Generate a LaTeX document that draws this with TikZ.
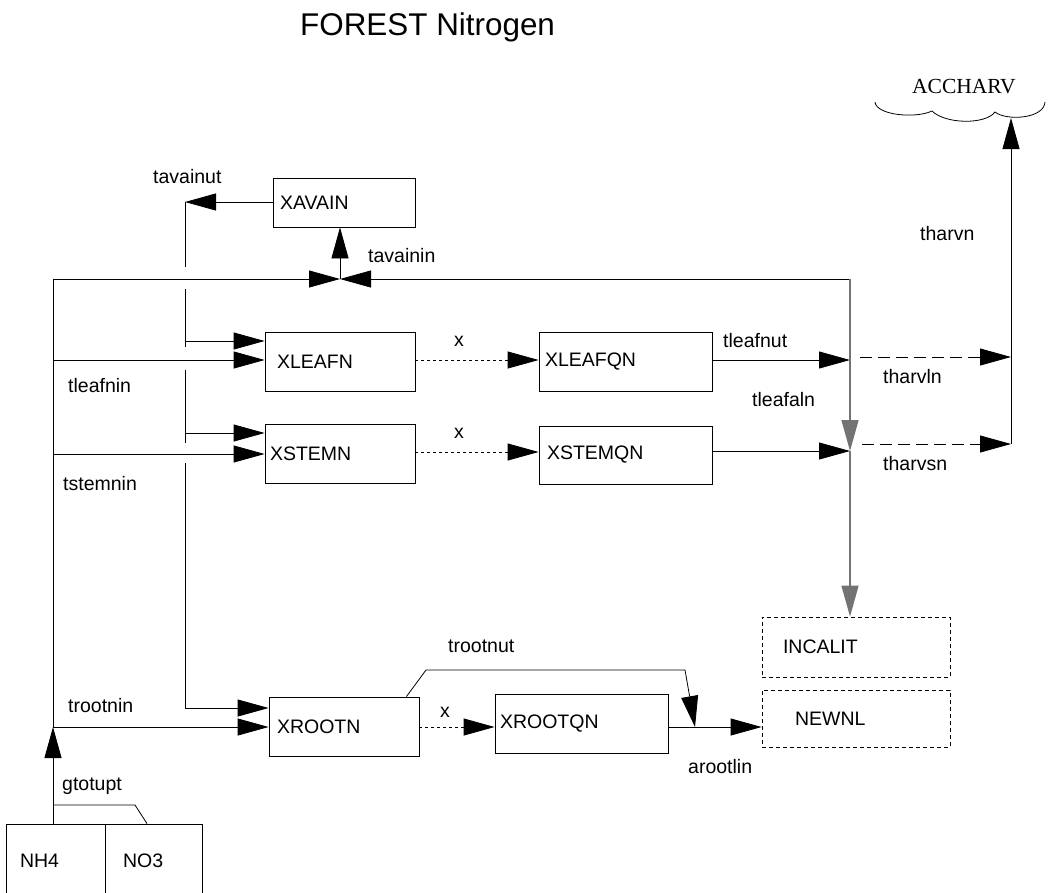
\documentclass[tikz,border=0pt]{standalone}
\usepackage{fontspec}
\setmainfont{Liberation Sans}
\newfontfamily\serifface{Liberation Serif}
\usetikzlibrary{arrows.meta}
\begin{document}
\begin{tikzpicture}[x=1pt,y=-1pt,
  lab/.style={font=\fontsize{19.5}{22}\selectfont, inner sep=0pt, anchor=base west},
  pool/.style={draw, line width=0.8pt, align=left, inner ysep=0pt,
    font=\fontsize{19.5}{22}\selectfont},
  sink/.style={pool, dash pattern=on 4pt off 3pt},
  link/.style={line width=0.8pt},
  tip/.style={-{Triangle[length=31pt,width=17pt]}},
  flow/.style={link, tip},
  fine/.style={dash pattern=on 3pt off 3pt},
  coarse/.style={dash pattern=on 12pt off 6pt},
  trunk/.style={line width=1.3pt, black!55, tip},
]
\useasboundingbox (0,0) rectangle (1051,892);

% title
\node[lab, font=\fontsize{31.4}{34}\selectfont] (title) at (300,35) {FOREST Nitrogen};

% pools
\node[pool, minimum height=49pt, inner xsep=7pt, text width=128pt] (xavain) at (344,202.5) {XAVAIN};
\node[pool, minimum height=59pt, inner xsep=12pt, text width=126pt] (xleafn) at (340,361.5) {XLEAFN};
\node[pool, minimum height=59pt, inner xsep=5pt, text width=140pt] (xstemn) at (340,453.5) {XSTEMN};
\node[pool, minimum height=59pt, inner xsep=6pt, text width=161pt] (xleafqn) at (625.5,361.5) {XLEAFQN};
\node[pool, minimum height=58pt, inner xsep=8pt, text width=157pt] (xstemqn) at (625.5,455) {XSTEMQN};
\node[pool, minimum height=59pt, inner xsep=8pt, text width=134pt] (xrootn) at (344,726.5) {XROOTN};
\node[pool, minimum height=59pt, inner xsep=5pt, text width=163pt] (xrootqn) at (581.5,723.5) {XROOTQN};
\node[sink, minimum height=60pt, inner xsep=21pt, text width=146pt] (incalit) at (856,647) {INCALIT};
\node[sink, minimum height=57pt, inner xsep=33pt, text width=122pt] (newnl) at (856,718.5) {NEWNL};
\node[pool, minimum height=74pt, inner xsep=14pt, text width=71pt] (nh4) at (55.5,861) {NH4};
\node[pool, minimum height=74pt, inner xsep=18pt, text width=61pt] (no3) at (153.5,861) {NO3};

% harvest sink
\node[font=\serifface\fontsize{21.5}{24}\selectfont, inner sep=0pt, anchor=base west] (accharv) at (912,93) {ACCHARV};
\draw[link] (875,102) .. controls (876,115) and (915,119) .. (932,111)
  .. controls (945,124) and (985,125) .. (995,112)
  .. controls (1006,121) and (1044,119) .. (1045,102);

% junction points
\coordinate (top) at (53,279);
\coordinate (mix) at (340,279);
\coordinate (ret) at (850,279);
\coordinate (leafin) at (53,360);
\coordinate (stemin) at (53,454);
\coordinate (rootin) at (53,727);
\coordinate (join) at (53,805);
\coordinate (avtip) at (185,202);
\coordinate (b1) at (185,341);
\coordinate (b2) at (185,433);
\coordinate (b3) at (185,708);
\coordinate (lj) at (850,360);
\coordinate (sj) at (850,451);
\coordinate (hl0) at (860,357);
\coordinate (hl1) at (1011,357);
\coordinate (hs0) at (862,444);
\coordinate (hs1) at (1011,444);
\coordinate (accin) at (1011,118);
\coordinate (rk1) at (426,670);
\coordinate (rk2) at (685,670);
\coordinate (rj) at (695,727);
\coordinate (no3k) at (135,805);

% uptake from the soil
\draw[flow] (nh4.north -| rootin) -- (rootin);
\draw[link] ([xshift=-6.5pt]no3.north) -- (no3k) -- (join);
\draw[link] (rootin) -- (top);
\draw[flow] (top) -- (mix);
\draw[flow] (ret) -- (mix);
\draw[flow] (mix) -- (xavain.south -| mix);

% direct inputs to tissues
\draw[flow] (leafin) -- (xleafn.west |- leafin);
\draw[flow] (stemin) -- (xstemn.west |- stemin);
\draw[flow] (rootin) -- (xrootn.west |- rootin);

% release from the available pool
\draw[flow] (xavain.west |- avtip) -- (avtip);
\draw[link] (avtip) -- (185,267);
\draw[link] (185,289) -- (185,347);
\draw[link] (185,370) -- (185,443);
\draw[link] (185,463) -- (b3);
\draw[flow] (b1) -- (xleafn.west |- b1);
\draw[flow] (b2) -- (xstemn.west |- b2);
\draw[flow] (b3) -- (xrootn.west |- b3);

% transfers between active and inactive pools
\draw[flow, fine] (xleafn.east |- lj) -- (xleafqn.west |- lj);
\draw[flow, fine] (xstemn.east |- 0,452) -- (xstemqn.west |- 0,452);
\draw[flow, fine] (xrootn.east |- rj) -- (xrootqn.west |- rj);

% litter and harvest
\draw[flow] (xleafqn.east |- lj) -- (lj);
\draw[flow] (xstemqn.east |- sj) -- (sj);
\draw[trunk] (ret) -- (sj);
\draw[trunk] (sj) -- (sj |- incalit.north);
\draw[flow, coarse] (hl0) -- (hl1);
\draw[flow, coarse] (hs0) -- (hs1);
\draw[flow] (hs1) -- (accin);
\draw[flow] ([xshift=-13pt]xrootn.north east) -- (rk1) -- (rk2) -- (rj);
\draw[flow] (xrootqn.east |- rj) -- (newnl.west |- rj);

% flow labels
\node[lab] (l1) at (153,183) {tavainut};
\node[lab] (l2) at (368,262) {tavainin};
\node[lab] (l3) at (68,392) {tleafnin};
\node[lab] (l4) at (63,490) {tstemnin};
\node[lab] (l5) at (723,347) {tleafnut};
\node[lab] (l6) at (883,383) {tharvln};
\node[lab] (l7) at (752,406) {tleafaln};
\node[lab] (l8) at (883,470) {tharvsn};
\node[lab] (l9) at (920,240) {tharvn};
\node[lab] (l10) at (448,652) {trootnut};
\node[lab] (l11) at (68,712) {trootnin};
\node[lab] (l12) at (62,790) {gtotupt};
\node[lab] (l13) at (688,773) {arootlin};
\node[lab] (x1) at (454,346) {x};
\node[lab] (x2) at (454,438) {x};
\node[lab] (x3) at (440,717) {x};
\end{tikzpicture}
\end{document}
